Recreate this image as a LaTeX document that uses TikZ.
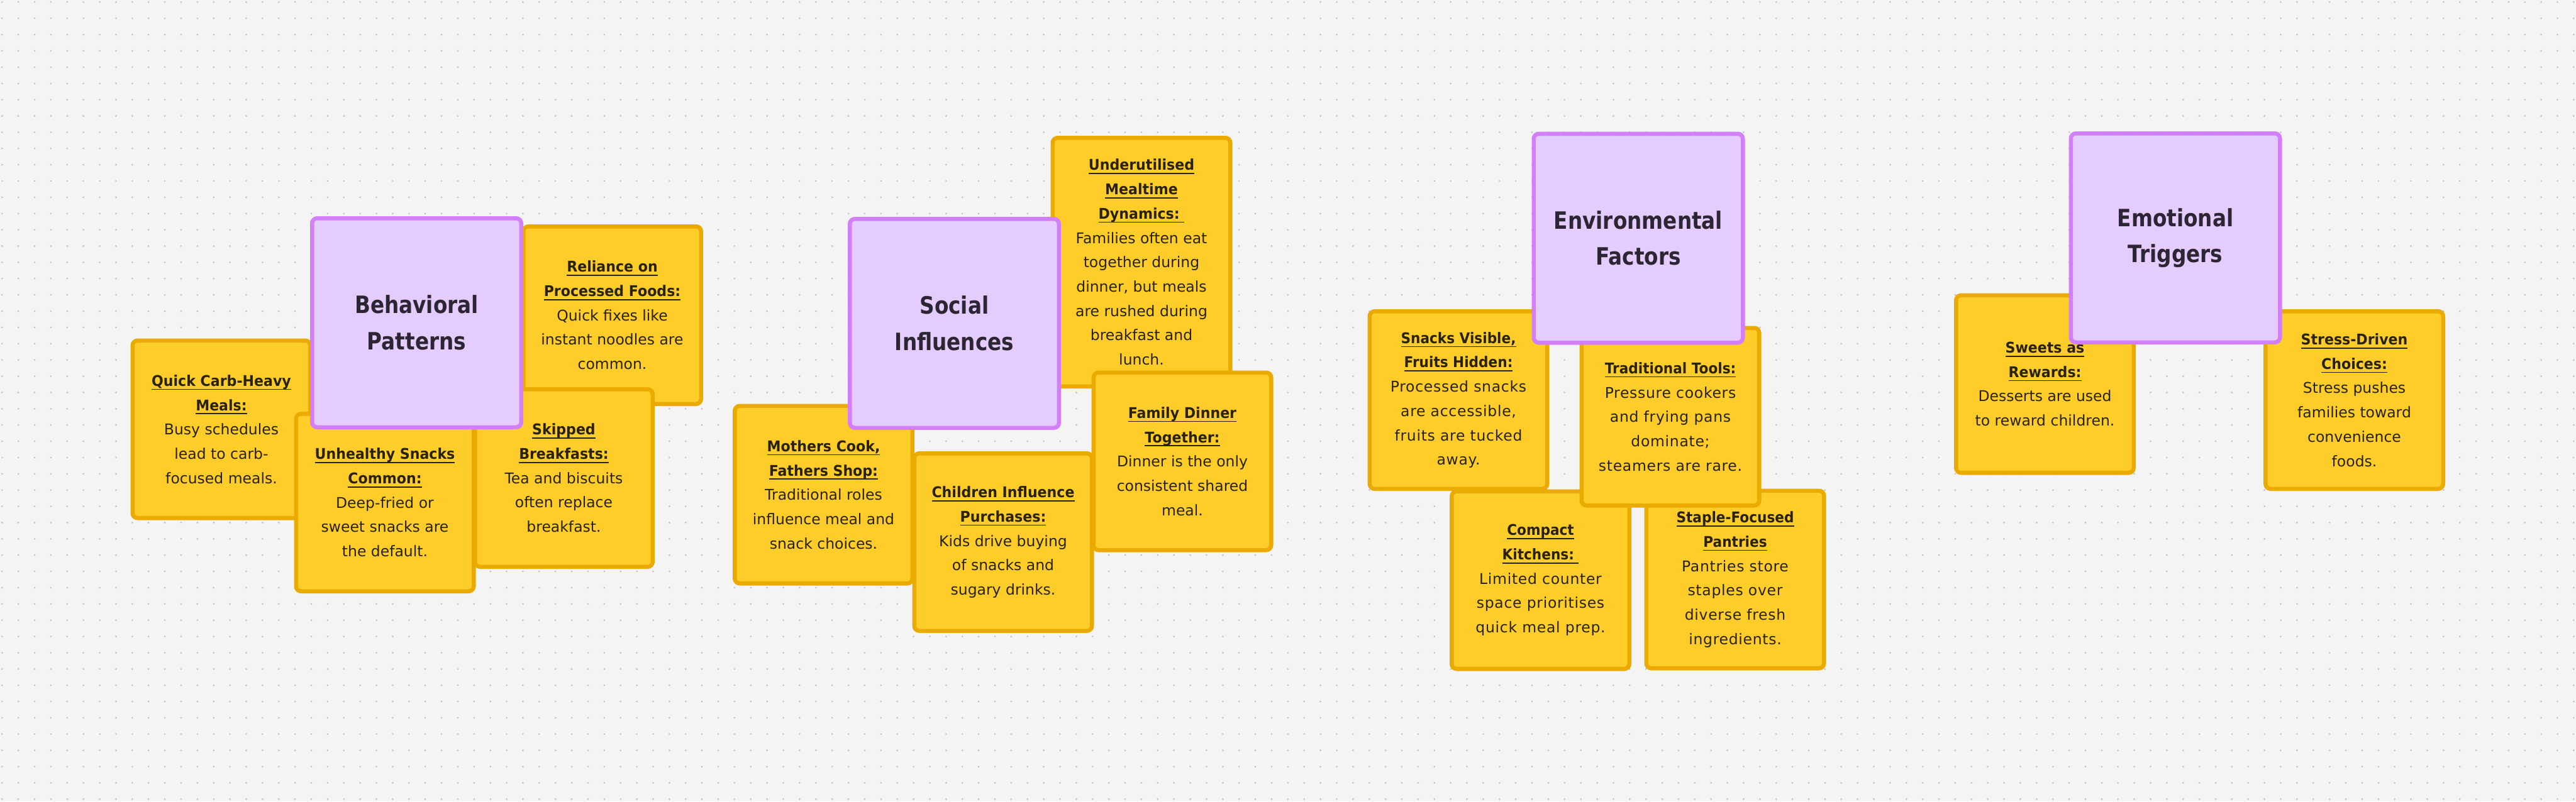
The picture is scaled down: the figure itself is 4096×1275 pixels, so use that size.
\documentclass[tikz,border=0pt]{standalone}
\usepackage{fontspec}
\setmainfont{DejaVu Sans}
\newfontfamily\bodyfont{DejaVu Sans}
\newfontfamily\envbodyfont{DejaVu Sans}[LetterSpace=3]
\newfontfamily\tboldfont{DejaVu Sans}[FakeStretch=0.94]
\newfontfamily\envtboldfont{DejaVu Sans}[FakeStretch=0.92]
\newfontfamily\headfont{DejaVu Sans}[FakeStretch=0.86]
\definecolor{bgcol}{HTML}{F4F4F4}
\definecolor{dotcol}{HTML}{C2C2C2}
\definecolor{stickyfill}{HTML}{FFCD29}
\definecolor{stickyborder}{HTML}{EAAA00}
\definecolor{stickytext}{HTML}{2A2205}
\definecolor{topicfill}{HTML}{E4CCFF}
\definecolor{topicborder}{HTML}{D47FFA}
\definecolor{topictext}{HTML}{2C2533}
\newsavebox\ulbox
\newcommand\ttl[1]{{\tboldfont\bfseries\sbox\ulbox{#1}\rlap{\rule[-3pt]{\wd\ulbox}{0.85pt}}\usebox\ulbox}}
\newcommand\ettl[1]{{\envtboldfont\bfseries\sbox\ulbox{#1}\rlap{\rule[-3pt]{\wd\ulbox}{0.85pt}}\usebox\ulbox}}
\tikzset{
  sticky/.style={draw=stickyborder, fill=stickyfill, line width=3.25pt,
    rounded corners=4pt, minimum width=141.25pt, minimum height=141.25pt,
    align=center, text=stickytext, inner sep=0pt,
    font=\bodyfont\fontsize{11.75pt}{19.35pt}\selectfont},
  envsticky/.style={sticky, font=\envbodyfont\fontsize{11.75pt}{19.35pt}\selectfont},
  topic/.style={draw=topicborder, fill=topicfill, line width=3.25pt,
    rounded corners=4pt, minimum width=166.25pt, minimum height=166.25pt,
    align=center, text=topictext, inner sep=0pt,
    font=\headfont\bfseries\fontsize{19pt}{28.75pt}\selectfont},
  dotrow/.style={draw=dotcol, line width=1.5pt, line cap=round, dash pattern=on 0pt off 12.94pt},
}
\begin{document}
\begin{tikzpicture}[x=0.5pt, y=-0.5pt]
\useasboundingbox (0,0) rectangle (4096,1275);
\fill[bgcol] (0,0) rectangle (4096,1275);
\foreach \j in {0,...,49} { \draw[dotrow] (3.3,{3.3+\j*25.88}) -- (4096,{3.3+\j*25.88}); }

% Behavioral Patterns
\node[sticky] (qc) at (352,683) {\ttl{Quick Carb-Heavy}\\\ttl{Meals:}\\Busy schedules\\lead to carb-\\focused meals.};
\node[sticky] (rp) at (973.5,501.5) {\ttl{Reliance on}\\\ttl{Processed Foods:}\\Quick fixes like\\instant noodles are\\common.};
\node[sticky] (sb) at (896.5,760.5) {\ttl{Skipped}\\\ttl{Breakfasts:}\\Tea and biscuits\\often replace\\breakfast.};
\node[sticky] (uh) at (612,799.5) {\ttl{Unhealthy Snacks}\\\ttl{Common:}\\Deep-fried or\\sweet snacks are\\the default.};
\node[topic] (bp) at (662.5,513.5) {Behavioral\\Patterns};

% Social Influences
\node[sticky, minimum height=197.75pt] (um) at (1815,417) {\ttl{Underutilised}\\\ttl{Mealtime}\\\ttl{Dynamics:\ }\\Families often eat\\together during\\dinner, but meals\\are rushed during\\breakfast and\\lunch.};
\node[sticky] (mc) at (1309.5,787) {\ttl{Mothers Cook,}\\\ttl{Fathers Shop:}\\Traditional roles\\influence meal and\\snack choices.};
\node[sticky] (ci) at (1595,862.5) {\ttl{Children Influence}\\\ttl{Purchases:}\\Kids drive buying\\of snacks and\\sugary drinks.};
\node[sticky] (fd) at (1880,734) {\ttl{Family Dinner}\\\ttl{Together:}\\Dinner is the only\\consistent shared\\meal.};
\node[topic] (si) at (1517.5,514.5) {Social\\Influences};

% Environmental Factors
\node[envsticky] (sv) at (2319,636.5) {\ettl{Snacks Visible,}\\\ettl{Fruits Hidden:}\\Processed snacks\\are accessible,\\fruits are tucked\\away.};
\node[envsticky] (ck) at (2449.5,923) {\ettl{Compact}\\\ettl{Kitchens:\ }\\Limited counter\\space prioritises\\quick meal prep.};
\node[envsticky] (sf) at (2759,922) {\ettl{Staple-Focused}\\\ettl{Pantries}\\Pantries store\\staples over\\diverse fresh\\ingredients.};
\node[envsticky] (tt) at (2656,663) {\ettl{Traditional Tools:}\\Pressure cookers\\and frying pans\\dominate;\\steamers are rare.};
\node[topic] (ef) at (2605,379) {Environmental\\Factors};

% Emotional Triggers
\node[sticky] (sr) at (3251.5,611) {\ttl{Sweets as}\\\ttl{Rewards:}\\Desserts are used\\to reward children.};
\node[sticky] (sd) at (3743.5,636.5) {\ttl{Stress-Driven}\\\ttl{Choices:}\\Stress pushes\\families toward\\convenience\\foods.};
\node[topic] (et) at (3459,378.5) {Emotional\\Triggers};
\end{tikzpicture}
\end{document}
